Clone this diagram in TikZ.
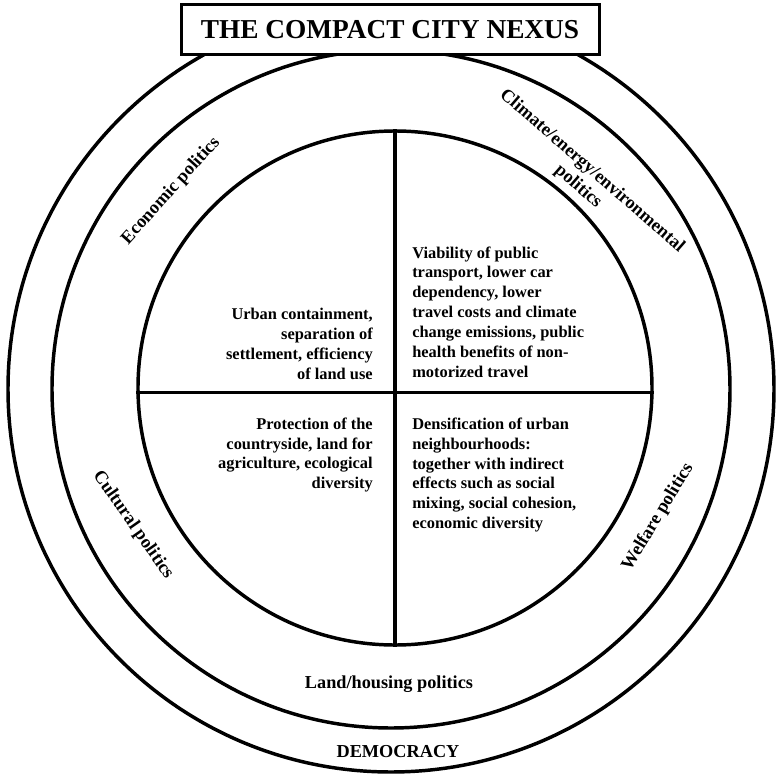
\documentclass[tikz,border=0pt]{standalone}
\usepackage{fontspec}
\setmainfont{Liberation Serif}

\begin{document}
\begin{tikzpicture}[x=0.75pt, y=-0.75pt,
    ring/.style={circle, draw, line width=2.6pt, inner sep=0pt},
    quadtext/.style={font=\bfseries\fontsize{12.3}{14.9}\selectfont, inner sep=0pt},
    politics/.style={font=\bfseries\fontsize{13.7}{15.8}\selectfont, inner sep=0pt, align=center}]
    \useasboundingbox (0,0) rectangle (776,774);

    % the three rings
    \node[ring, minimum size=574.5pt] (democracy ring) at (391,389) {};
    \node[ring, minimum size=508.5pt] (politics ring) at (391,389) {};
    \node[ring, minimum size=385.5pt] (nexus) at (395,388) {};
    \draw[line width=2.6pt] (nexus.north) -- (nexus.south);
    \draw[line width=2.6pt] (nexus.181.5) -- (nexus.-1.5);

    % title
    \node[draw, fill=white, line width=2.25pt, minimum width=313.5pt, minimum height=37.5pt,
          font=\bfseries\fontsize{20.5}{22}\selectfont] (title) at (390,30) {THE COMPACT CITY NEXUS\hspace{9pt}};

    % quadrants
    \node[quadtext, anchor=east, align=right] (containment) at (373,344)
        {Urban containment,\\ separation of\\ settlement, efficiency\\ of land use};
    \node[quadtext, anchor=west, align=left] (transport) at (412,312)
        {Viability of public\\ transport, lower car\\ dependency, lower\\ travel costs and climate\\ change emissions, public\\ health benefits of non-\\ motorized travel};
    \node[quadtext, anchor=east, align=right] (countryside) at (373,455)
        {Protection of the\\ countryside, land for\\ agriculture, ecological\\ diversity};
    \node[quadtext, anchor=west, align=left] (densification) at (412,475)
        {Densification of urban\\ neighbourhoods:\\ together with indirect\\ effects such as social\\ mixing, social cohesion,\\ economic diversity};

    % politics around the nexus
    \node[politics, rotate=48] (economic) at (171,191) {Economic politics};
    \node[politics, rotate=-41] (climate) at (585,179) {Climate/energy/environmental\\ politics};
    \node[politics, rotate=-55] (cultural) at (133,525) {Cultural politics};
    \node[politics, rotate=59] (welfare) at (658,517) {Welfare politics};
    \node[politics] (land) at (389,684) {Land/housing politics};
    \node[politics] (democracy) at (398,752) {DEMOCRACY};
\end{tikzpicture}
\end{document}
